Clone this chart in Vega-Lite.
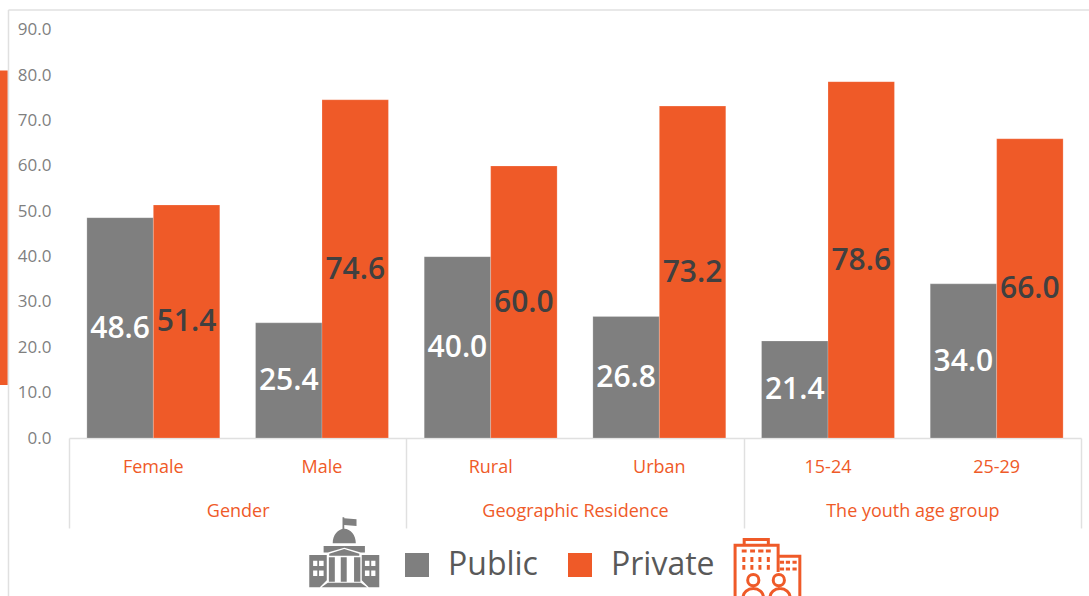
{
"$schema":"https://vega.github.io/schema/vega-lite/v6.json",
"width":1012,"height":428,
"autosize":{"type":"none"},
"padding":{"left":69,"top":10,"right":8,"bottom":158},
"background":"white",
"config":{"view":{"stroke":null},"font":"Open Sans"},
"datasets":{"rows":[
{"category":"Female","group":"Gender","series":"Public","value":48.6},
{"category":"Female","group":"Gender","series":"Private","value":51.4},
{"category":"Male","group":"Gender","series":"Public","value":25.4},
{"category":"Male","group":"Gender","series":"Private","value":74.6},
{"category":"Rural","group":"Geographic Residence","series":"Public","value":40.0},
{"category":"Rural","group":"Geographic Residence","series":"Private","value":60.0},
{"category":"Urban","group":"Geographic Residence","series":"Public","value":26.8},
{"category":"Urban","group":"Geographic Residence","series":"Private","value":73.2},
{"category":"15-24","group":"The youth age group","series":"Public","value":21.4},
{"category":"15-24","group":"The youth age group","series":"Private","value":78.6},
{"category":"25-29","group":"The youth age group","series":"Public","value":34.0},
{"category":"25-29","group":"The youth age group","series":"Private","value":66.0}
]},
"data":{"name":"rows"},
"resolve":{"scale":{"x":"independent"},"axis":{"x":"independent"}},
"layer":[
{"layer":[
 {"mark":{"type":"bar","stroke":"#ffffff","strokeWidth":0.5,"strokeOpacity":0.4},
  "encoding":{
   "x":{"field":"category","type":"nominal","scale":{"domain":["Female","Male","Rural","Urban","15-24","25-29"],"paddingInner":0.212,"paddingOuter":0.106},
     "axis":{"title":null,"labelAngle":0,"labelColor":"#ef5a28","labelFontSize":18,"labelPadding":20,"ticks":false,"domain":true,"domainColor":"#e0e0e0","domainWidth":1.5}},
   "xOffset":{"field":"series","type":"nominal","scale":{"domain":["Public","Private"],"paddingInner":0,"paddingOuter":0}},
   "y":{"field":"value","type":"quantitative","scale":{"domain":[0,94.4],"nice":false},
     "axis":{"title":null,"values":[0,10,20,30,40,50,60,70,80,90],"format":".1f","grid":false,"domain":false,"ticks":false,"labelColor":"#7f7f7f","labelFontSize":17,"labelPadding":18}},
   "color":{"field":"series","type":"nominal","scale":{"domain":["Public","Private"],"range":["#7f7f7f","#ef5a28"]},
     "legend":{"title":null,"orient":"none","direction":"horizontal","legendX":332,"legendY":539,"symbolType":"square","symbolSize":576,"symbolStrokeWidth":0,"symbolOpacity":1,"labelFontSize":32,"labelColor":"#595959","labelOffset":15,"columnPadding":26,"padding":0}}
  }},
 {"transform":[{"calculate":"datum.value/2","as":"mid"}],
  "mark":{"type":"text","fontSize":30,"fontWeight":600,"align":"center","baseline":"middle","dy":1},
  "encoding":{
   "x":{"field":"category","type":"nominal"},
   "xOffset":{"field":"series","type":"nominal"},
   "y":{"field":"mid","type":"quantitative"},
   "text":{"field":"value","type":"quantitative","format":".1f"},
   "color":{"condition":{"test":"datum.series==='Public'","value":"#ffffff"},"value":"#404040"}
  }}
]},
{"mark":{"type":"tick","opacity":0},
 "encoding":{
  "x":{"field":"group","type":"nominal","scale":{"domain":["Gender","Geographic Residence","The youth age group"],"paddingInner":0,"paddingOuter":0},
    "axis":{"title":null,"orient":"bottom","labelAngle":0,"labelColor":"#ef5a28","labelFontSize":18,"labelLimit":400,"labelPadding":-26,"ticks":true,"tickBand":"extent","tickSize":90,"tickColor":"#e0e0e0","tickWidth":1.5,"domain":false}}
 }},
{"data":{"values":[{"part":"frame"}]},
 "layer":[
 {"mark":{"type":"rect","fill":"#ef5a28"},
  "encoding":{"x":{"datum":-6.82,"type":"quantitative","scale":{"domain":[0,100],"nice":false,"zero":false},"axis":null},"x2":{"datum":-6.05},"y":{"datum":81.07,"type":"quantitative"},"y2":{"datum":11.69}}},
 {"mark":{"type":"rule","color":"#e0e0e0","strokeWidth":1.5},
  "encoding":{"x":{"datum":-5.98,"type":"quantitative"},"x2":{"datum":100.8},"y":{"datum":94.4,"type":"quantitative"}}},
 {"mark":{"type":"rule","color":"#e0e0e0","strokeWidth":1.5},
  "encoding":{"x":{"datum":-5.98,"type":"quantitative"},"y":{"datum":94.4,"type":"quantitative"},"y2":{"datum":-34.9}}},
 {"mark":{"type":"point","filled":true,"fill":"#7f7f7f","strokeWidth":0,"opacity":1,"size":4900,
   "shape":"M-.05,-1H0V-.97L.35,-.94V-.75L0,-.78V-.66H-.05ZM-.33,-.26A.33,.41 0 0 1 .33,-.26ZM-.59,-.18H.59V.01H.47L0,-.13L-.47,.01H-.59ZM-.43,.04L0,-.09L.43,.04V.1H-.43ZM-.44,.14H-.27V.84H-.44ZM-.1,.14H.07V.84H-.1ZM.28,.14H.46V.84H.28ZM-.65,1L-.47,.87H.47L.65,1ZM-1,.08H-.5V.8L-.7,1H-1ZM-.89,.24V.39H-.77V.24ZM-.72,.24V.39H-.59V.24ZM-.89,.52V.68H-.77V.52ZM-.72,.52V.68H-.59V.52ZM.5,.08H1V1H.7L.5,.8ZM.59,.24V.39H.72V.24ZM.77,.24V.39H.89V.24ZM.59,.52V.68H.72V.52ZM.77,.52V.68H.89V.52Z"},
  "encoding":{"x":{"datum":27.2,"type":"quantitative"},"y":{"datum":-25.2,"type":"quantitative"}}},
 {"mark":{"type":"point","filled":false,"stroke":"#ef5a28","strokeWidth":3,"opacity":1,"size":4900,
   "shape":"M-.92,1V-.67H.31V.1M-.66,-.67V-.83H.03V-.67M.31,-.35H.93V1M-.73,-.5H-.59M-.49,-.5H-.35M-.26,-.5H-.11M-.04,-.5H.1M-.67,-.33V-.19M-.44,-.33V-.19M-.21,-.33V-.19M.03,-.33V-.19M-.67,-.1V.03M-.44,-.1V.03M-.21,-.1V.03M.03,-.1V.03M.36,-.18H.48M.53,-.18H.65M.72,-.18H.84M.36,.01H.48M.53,.01H.65M.72,.01H.84M-.56,.33A.16,.16 0 1 0 -.24,.33A.16,.16 0 1 0 -.56,.33M.17,.33A.16,.16 0 1 0 .49,.33A.16,.16 0 1 0 .17,.33M-.69,1V.82A.29,.25 0 0 1 -.11,.82V1M.08,1V.82A.285,.25 0 0 1 .65,.82V1"},
  "encoding":{"x":{"datum":69.0,"type":"quantitative"},"y":{"datum":-28.8,"type":"quantitative"}}}
 ]}
]
}
